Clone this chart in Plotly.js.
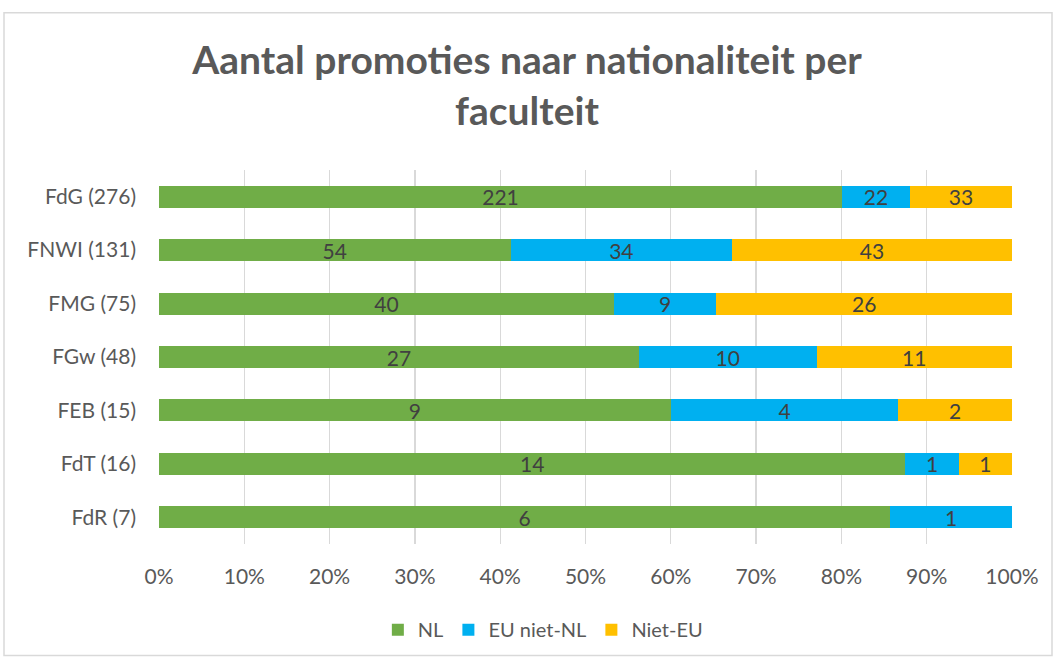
<!DOCTYPE html>
<html>
<head>
<meta charset="utf-8">
<script src="https://cdn.plot.ly/plotly-3.0.1.min.js"></script>
<style>html,body{margin:0;padding:0;background:#fff;}#chart{width:1054px;height:661px;}</style>
</head>
<body>
<div id="chart"></div>
<script>
const categories = ["FdG (276)", "FNWI (131)", "FMG (75)", "FGw (48)", "FEB (15)", "FdT (16)", "FdR (7)"];
const seriesNames = ["NL", "EU niet-NL", "Niet-EU"];
const nlValues = [221, 54, 40, 27, 9, 14, 6];
const euValues = [22, 34, 9, 10, 4, 1, 1];
const nietEuValues = [33, 43, 26, 11, 2, 1, 0];
const colors = ["#70AD47", "#00B0F0", "#FFC000"];
const tickVals = [0, 10, 20, 30, 40, 50, 60, 70, 80, 90, 100];
const tickLabels = ["0%", "10%", "20%", "30%", "40%", "50%", "60%", "70%", "80%", "90%", "100%"];

const FONT = "Lato, 'Open Sans', sans-serif";
const allVals = [nlValues, euValues, nietEuValues];
const traces = allVals.map((vals, i) => ({
  type: "bar",
  orientation: "h",
  name: seriesNames[i],
  y: categories,
  x: vals,
  text: vals.map(v => v === 0 ? "" : String(v)),
  texttemplate: "%{text}",
  textposition: "inside",
  textangle: 0,
  insidetextanchor: "middle",
  constraintext: "none",
  textfont: {family: FONT, size: 21, color: "#404040"},
  marker: {color: colors[i], line: {width: 0}},
  hoverinfo: "none"
}));

const layout = {
  width: 1054, height: 661,
  margin: {l: 159, r: 42, t: 170, b: 115},
  paper_bgcolor: "#ffffff", plot_bgcolor: "#ffffff",
  barmode: "stack", barnorm: "percent", bargap: 0.59,
  title: {
    text: "Aantal promoties naar nationaliteit per<br>faculteit",
    font: {family: FONT, size: 39, color: "#595959", weight: "bold"},
    x: 0.5, xref: "container", xanchor: "center",
    y: 1 - 74/661, yref: "container", yanchor: "top"
  },
  xaxis: {
    range: [0, 100], tickvals: tickVals, ticktext: tickLabels,
    showgrid: true, gridcolor: "#D9D9D9", gridwidth: 1.3,
    zeroline: false, showline: false, ticks: "",
    ticklabelstandoff: 18,
    tickfont: {family: FONT, size: 21, color: "#595959"}, fixedrange: true
  },
  yaxis: {
    type: "category", categoryorder: "array", categoryarray: categories,
    autorange: "reversed", showgrid: false, zeroline: false, showline: false, ticks: "",
    ticklabelstandoff: 22,
    tickfont: {family: FONT, size: 21, color: "#595959"}, fixedrange: true
  },
  legend: {
    orientation: "h", x: 0.45, xanchor: "center", y: -0.229, yanchor: "middle",
    font: {family: FONT, size: 20, color: "#595959"}, traceorder: "normal",
    itemwidth: 30
  },
  showlegend: true,
  shapes: [{
    type: "rect", xref: "paper", yref: "paper",
    x0: (4 - 159) / 853, x1: (1052 - 159) / 853,
    y0: (546 - 658) / 376, y1: (546 - 12) / 376,
    line: {color: "#D9D9D9", width: 1.5}, fillcolor: "rgba(0,0,0,0)", layer: "below"
  }]
};

Plotly.newPlot("chart", traces, layout, {displayModeBar: false, staticPlot: true});
</script>
</body>
</html>
